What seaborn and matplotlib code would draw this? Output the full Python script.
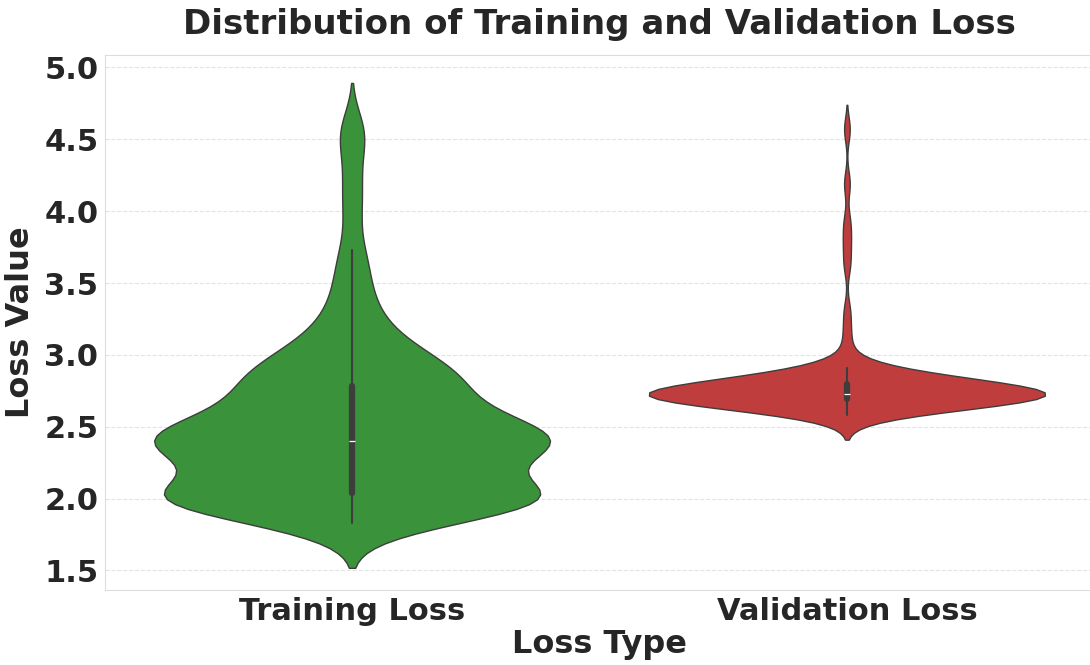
import matplotlib
matplotlib.use("Agg")
import matplotlib.pyplot as plt
import seaborn as sns
import pandas as pd

categories = ["Training Loss", "Validation Loss"]
colors = ["#2ca02c", "#d62728"]

training_loss = [
    1.83, 1.89, 1.92, 1.93, 1.94, 1.95, 1.95, 1.96, 1.96, 1.97,
    1.97, 1.97, 1.98, 1.98, 1.98, 1.99, 1.99, 1.99, 2.00, 2.00,
    2.01, 2.01, 2.02, 2.02, 2.03,
    2.04, 2.05, 2.07, 2.09, 2.12, 2.15, 2.18, 2.21, 2.24, 2.27,
    2.29, 2.31, 2.33, 2.34, 2.35, 2.36, 2.37, 2.37, 2.38, 2.38,
    2.39, 2.39, 2.39, 2.40, 2.40,
    2.40, 2.41, 2.41, 2.42, 2.42, 2.43, 2.44, 2.45, 2.46, 2.47,
    2.49, 2.51, 2.53, 2.55, 2.57, 2.59, 2.61, 2.63, 2.65, 2.67,
    2.69, 2.71, 2.73, 2.75, 2.78,
    2.79, 2.80, 2.82, 2.84, 2.86, 2.88, 2.90, 2.92, 2.93, 2.95,
    2.98, 3.01, 3.05, 3.09, 3.14, 3.20, 3.27, 3.36, 3.47, 3.60,
    3.73, 4.00, 4.22, 4.48, 4.58,
]

validation_loss = [
    2.58, 2.60, 2.61, 2.62, 2.63, 2.63, 2.64, 2.64, 2.65, 2.65,
    2.66, 2.66, 2.66, 2.67, 2.67, 2.67, 2.67, 2.68, 2.68, 2.68,
    2.68, 2.68, 2.69, 2.69, 2.69,
    2.69, 2.69, 2.70, 2.70, 2.70, 2.70, 2.70, 2.71, 2.71, 2.71,
    2.71, 2.71, 2.71, 2.72, 2.72, 2.72, 2.72, 2.72, 2.72, 2.72,
    2.72, 2.72, 2.72, 2.72,
    2.73, 2.73, 2.73, 2.74, 2.74, 2.74, 2.74, 2.75, 2.75, 2.75,
    2.75, 2.76, 2.76, 2.76, 2.77, 2.77, 2.77, 2.78, 2.78, 2.78,
    2.78, 2.79, 2.79, 2.79, 2.79,
    2.80, 2.80, 2.81, 2.81, 2.82, 2.82, 2.83, 2.83, 2.84, 2.84,
    2.85, 2.85, 2.86, 2.87, 2.88, 2.89, 2.90, 2.91,
    3.02, 3.15, 3.30, 3.63, 3.78, 3.92, 4.19, 4.57,
]

df = pd.DataFrame({
    "Loss Type": [categories[0]] * len(training_loss) + [categories[1]] * len(validation_loss),
    "Loss Value": training_loss + validation_loss,
})

sns.set_style("whitegrid", {"grid.linestyle": "--", "grid.color": "#e3e3e3",
                            "axes.edgecolor": "#dddddd"})
plt.rcParams["font.family"] = ["DejaVu Sans"]

fig, ax = plt.subplots(figsize=(10.9, 6.65), dpi=100)
sns.violinplot(data=df, x="Loss Type", y="Loss Value", hue="Loss Type",
               palette=colors, legend=False, density_norm="width",
               bw_adjust=0.7, linewidth=1.0, ax=ax)

ax.set_title("Distribution of Training and Validation Loss", fontsize=24.5,
             fontweight="bold", pad=15)
ax.set_xlabel("Loss Type", fontsize=23, fontweight="bold", labelpad=2)
ax.set_ylabel("Loss Value", fontsize=23, fontweight="bold", labelpad=6)
ax.tick_params(axis="both", labelsize=22)
ax.tick_params(axis="y", pad=1)
ax.tick_params(axis="x", pad=2)
for lab in ax.get_xticklabels() + ax.get_yticklabels():
    lab.set_fontweight("bold")
ax.grid(True, axis="y", linestyle="--", linewidth=0.8, color="#e3e3e3")
ax.grid(False, axis="x")
ax.set_ylim(1.365, 5.085)

fig.subplots_adjust(left=0.096, right=1.004, top=0.917, bottom=0.113)
fig.savefig("out.png", dpi=100)
